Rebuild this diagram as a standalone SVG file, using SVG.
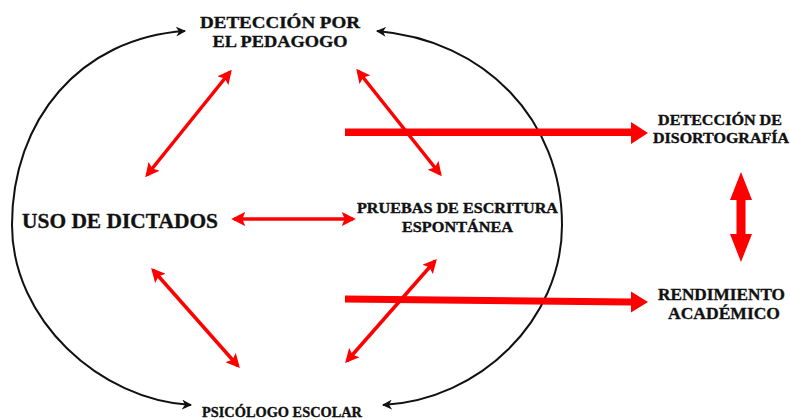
<svg xmlns="http://www.w3.org/2000/svg" width="790" height="420" viewBox="0 0 790 420">
<style>
.t{font-family:'Liberation Serif','Times New Roman','DejaVu Serif',serif;font-weight:700;fill:#111;stroke:#111;stroke-width:0.35;}
.arc{fill:none;stroke:#111;stroke-width:2;}
.thin{fill:none;stroke:#f00;stroke-width:3.5;}
.thick{fill:#f00;stroke:none;}
</style>
<defs>
<marker id="bh" viewBox="0 0 10 10" refX="9" refY="5" markerWidth="5" markerHeight="5" orient="auto-start-reverse" markerUnits="strokeWidth">
<path d="M0,0 L10,5 L0,10 L3,5 z" fill="#111"/>
</marker>
<marker id="rh" viewBox="0 0 10 10" refX="8" refY="5" markerWidth="4" markerHeight="4" orient="auto-start-reverse" markerUnits="strokeWidth">
<path d="M0,0 L10,5 L0,10 L2,5 z" fill="#f00"/>
</marker>
</defs>
<rect width="790" height="420" fill="#fff"/>
<g id="connectors">
<path class="arc" d="M185,31 C80,38 12,120 12,225 C12,320 100,400 191,405" marker-start="url(#bh)" marker-end="url(#bh)"/>
<path class="arc" d="M377,31 C485,40 562,120 562,225 C562,320 480,400 383,405" marker-start="url(#bh)" marker-end="url(#bh)"/>
<line class="thin" x1="147" y1="175" x2="230" y2="72" marker-start="url(#rh)" marker-end="url(#rh)"/>
<line class="thin" x1="358" y1="71" x2="440" y2="174" marker-start="url(#rh)" marker-end="url(#rh)"/>
<line class="thin" x1="234" y1="219" x2="353" y2="219" marker-start="url(#rh)" marker-end="url(#rh)"/>
<line class="thin" x1="153" y1="270" x2="238" y2="366" marker-start="url(#rh)" marker-end="url(#rh)"/>
<line class="thin" x1="435" y1="261" x2="347" y2="361" marker-start="url(#rh)" marker-end="url(#rh)"/>
<polygon class="thick" points="345,128.5 631,128.5 631,122 648,133 631,144 631,136 345,136"/>
<polygon class="thick" points="345,295.5 631,298.5 631,291.5 648,302 631,312.5 631,305.5 345,302.5"/>
<polygon class="thick" points="741,172 752,200 745.5,200 745.5,234 752,234 741,262 730,234 736.5,234 736.5,200 730,200"/>
</g>
<g id="n-pedagogo">
<text class="t" x="280" y="28" font-size="17" text-anchor="middle" textLength="160" lengthAdjust="spacingAndGlyphs">DETECCIÓN POR</text>
<text class="t" x="280" y="47" font-size="17" text-anchor="middle" textLength="135" lengthAdjust="spacingAndGlyphs">EL PEDAGOGO</text>
</g>
<g id="n-dictados">
<text class="t" x="22" y="228" font-size="21" textLength="196" lengthAdjust="spacingAndGlyphs">USO DE DICTADOS</text>
</g>
<g id="n-pruebas">
<text class="t" x="457.5" y="213" font-size="14" text-anchor="middle" textLength="201" lengthAdjust="spacingAndGlyphs">PRUEBAS DE ESCRITURA</text>
<text class="t" x="457.5" y="232" font-size="14" text-anchor="middle" textLength="111" lengthAdjust="spacingAndGlyphs">ESPONTÁNEA</text>
</g>
<g id="n-psicologo">
<text class="t" x="282" y="417" font-size="14" text-anchor="middle" textLength="160" lengthAdjust="spacingAndGlyphs">PSICÓLOGO ESCOLAR</text>
</g>
<g id="n-disortografia">
<text class="t" x="720" y="125" font-size="14" text-anchor="middle" textLength="124" lengthAdjust="spacingAndGlyphs">DETECCIÓN DE</text>
<text class="t" x="721" y="143" font-size="14" text-anchor="middle" textLength="136" lengthAdjust="spacingAndGlyphs">DISORTOGRAFÍA</text>
</g>
<g id="n-rendimiento">
<text class="t" x="721.5" y="300" font-size="17" text-anchor="middle" textLength="127" lengthAdjust="spacingAndGlyphs">RENDIMIENTO</text>
<text class="t" x="724" y="319" font-size="17" text-anchor="middle" textLength="112" lengthAdjust="spacingAndGlyphs">ACADÉMICO</text>
</g>
</svg>
